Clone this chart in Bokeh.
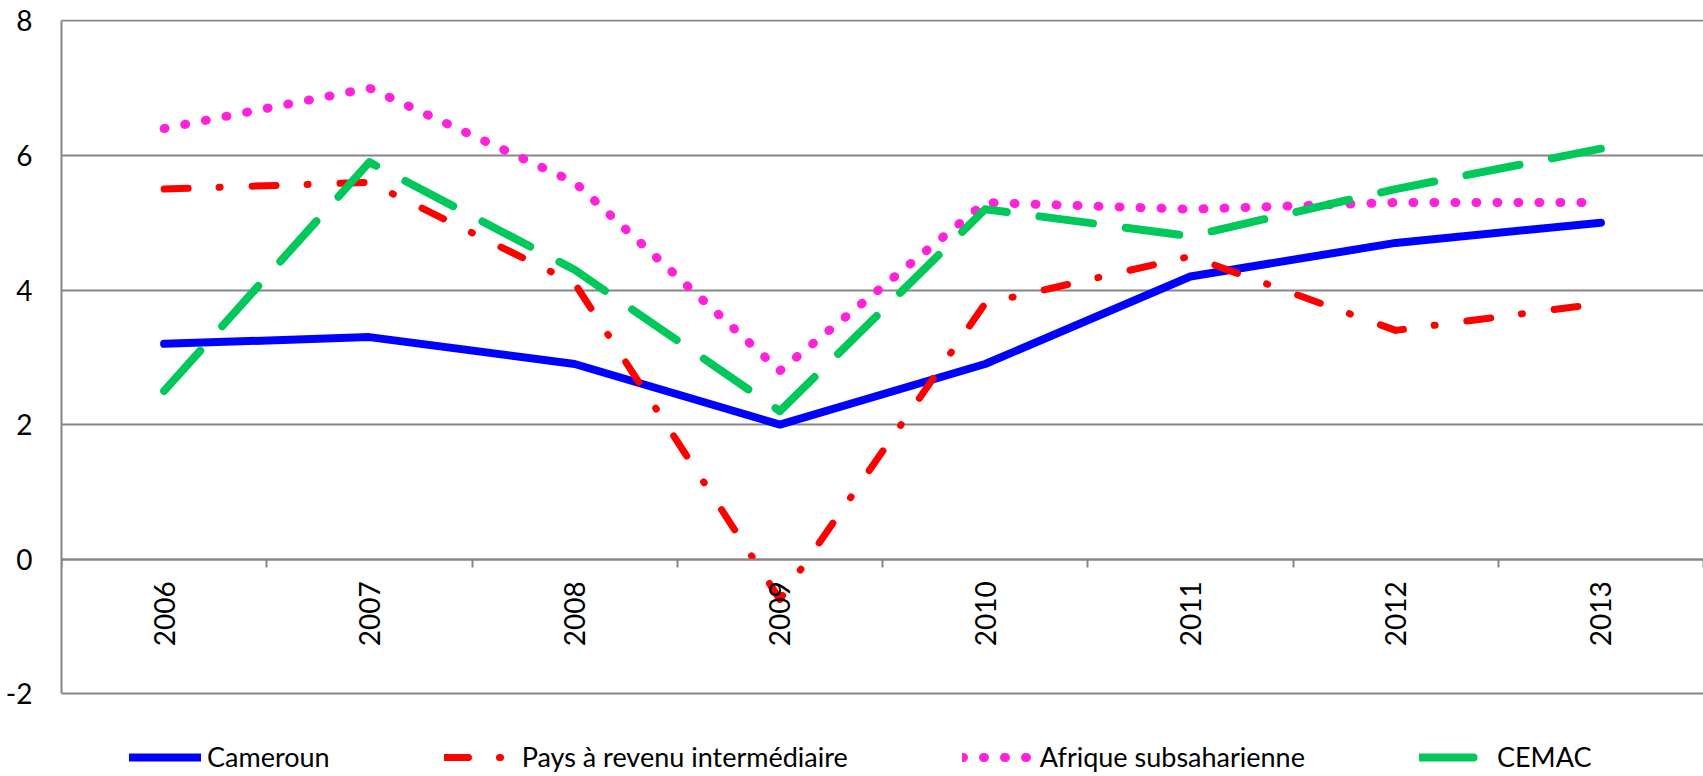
import math
from bokeh.plotting import figure
from bokeh.models import Range1d, FixedTicker, Legend, LegendItem
from bokeh.embed import file_html
from bokeh.resources import INLINE

years = ["2006", "2007", "2008", "2009", "2010", "2011", "2012", "2013"]
cameroun = [3.2, 3.3, 2.9, 2.0, 2.9, 4.2, 4.7, 5.0]
pays_revenu_inter = [5.5, 5.6, 4.1, -0.6, 3.8, 4.5, 3.4, 3.8]
afrique_subsah = [6.4, 7.0, 5.6, 2.8, 5.3, 5.2, 5.3, 5.3]
cemac = [2.5, 5.9, 4.3, 2.2, 5.2, 4.8, 5.5, 6.1]
y_ticks = [-2, 0, 2, 4, 6, 8]

xs = list(range(len(years)))
FONT = "Lato"
GRID = "#868686"

# frame runs to the bottom of the figure; the space under -2 holds the legend
p = figure(width=1703, height=776, output_backend="svg", toolbar_location=None,
           x_range=Range1d(-0.5, len(years) - 0.5), y_range=Range1d(-3.23, 8.02),
           min_border_left=61, min_border_top=19, min_border_right=0, min_border_bottom=0)
p.outline_line_color = None
p.background_fill_color = "white"
p.border_fill_color = "white"

# y axis
p.yaxis.ticker = FixedTicker(ticks=y_ticks)
p.yaxis.bounds = (-2, 8)
p.yaxis.major_label_overrides = {-2: "-2"}
p.yaxis.major_tick_line_color = None
p.yaxis.minor_tick_line_color = None
p.yaxis.major_tick_out = 0
p.yaxis.major_tick_in = 0
p.yaxis.minor_tick_out = 0
p.yaxis.minor_tick_in = 0
p.yaxis.axis_line_color = GRID
p.yaxis.axis_line_width = 2
p.yaxis.major_label_text_font = FONT
p.yaxis.major_label_text_font_size = "28px"
p.yaxis.major_label_text_color = "black"
p.yaxis.major_label_standoff = 29

# x axis at y=0
p.xaxis.fixed_location = 0
p.xaxis.ticker = FixedTicker(ticks=xs, minor_ticks=[i - 0.5 for i in range(len(years) + 1)])
p.xaxis.major_label_overrides = {i: y for i, y in zip(xs, years)}
p.xaxis.major_label_orientation = math.pi / 2
p.xaxis.major_tick_line_color = None
p.xaxis.major_tick_out = 0
p.xaxis.major_tick_in = 0
p.xaxis.minor_tick_line_color = GRID
p.xaxis.minor_tick_line_width = 2
p.xaxis.minor_tick_out = 8
p.xaxis.minor_tick_in = 0
p.xaxis.axis_line_color = GRID
p.xaxis.axis_line_width = 2
p.xaxis.major_label_text_font = FONT
p.xaxis.major_label_text_font_size = "28px"
p.xaxis.major_label_text_color = "black"
p.xaxis.major_label_standoff = 14

p.xgrid.grid_line_color = None
p.ygrid.ticker = FixedTicker(ticks=y_ticks)
p.ygrid.grid_line_color = GRID
p.ygrid.grid_line_width = 2

r1 = p.line(xs, cameroun, line_color="#0000FF", line_width=8, line_join="round", line_cap="round")
r2 = p.line(xs, pays_revenu_inter, line_color="#FF0000", line_width=7, line_join="round",
            line_cap="round", line_dash="24 31 1 32")
r3 = p.line(xs, afrique_subsah, line_color="#FF22D8", line_width=9, line_join="round",
            line_cap="round", line_dash="1 20")
r4 = p.line(xs, cemac, line_color="#00C85A", line_width=8, line_join="round",
            line_cap="round", line_dash="54 33")

legend = Legend(items=[
    LegendItem(label="Cameroun", renderers=[r1]),
    LegendItem(label="Pays à revenu intermédiaire", renderers=[r2]),
    LegendItem(label="Afrique subsaharienne", renderers=[r3]),
    LegendItem(label="CEMAC", renderers=[r4]),
], orientation="horizontal", location=(68, 3))
legend.label_text_font = FONT
legend.label_text_font_size = "27px"
legend.label_text_color = "black"
legend.glyph_width = 72
legend.glyph_height = 26
legend.label_height = 26
legend.label_standoff = 6
legend.spacing = 114
legend.padding = 0
legend.margin = 0
legend.border_line_color = None
legend.background_fill_alpha = 0
p.add_layout(legend, "center")

open("out.html", "w").write(file_html(p, INLINE))
